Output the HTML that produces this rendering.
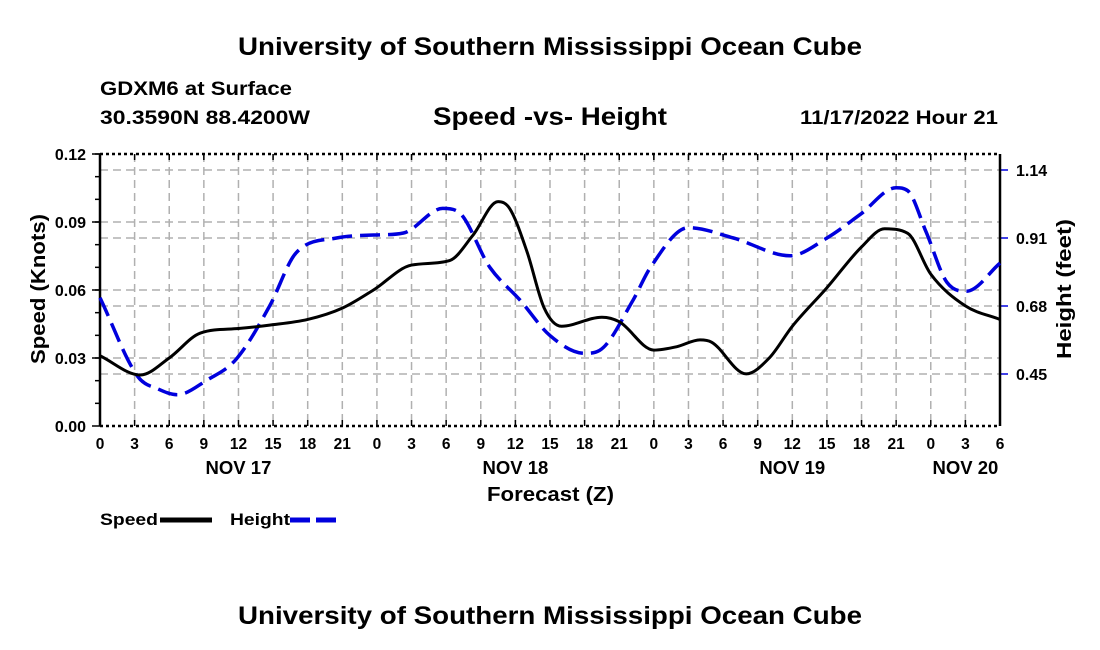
<!DOCTYPE html>
<html><head><meta charset="utf-8"><style>
body{margin:0;background:#fff;}
svg{display:block;font-family:"Liberation Sans",Arial,sans-serif;}
</style></head><body>
<svg id="chart" width="1100" height="650">
<text x="238" y="55" font-size="25" font-weight="bold" textLength="624" lengthAdjust="spacingAndGlyphs">University of Southern Mississippi Ocean Cube</text>
<text x="100" y="95" font-size="19" font-weight="bold" textLength="192" lengthAdjust="spacingAndGlyphs">GDXM6 at Surface</text>
<text x="100" y="124" font-size="19" font-weight="bold" textLength="210" lengthAdjust="spacingAndGlyphs">30.3590N  88.4200W</text>
<text x="433" y="125" font-size="25" font-weight="bold" textLength="234" lengthAdjust="spacingAndGlyphs">Speed -vs- Height</text>
<text x="800" y="124" font-size="19" font-weight="bold" textLength="198" lengthAdjust="spacingAndGlyphs">11/17/2022 Hour 21</text>
<g id="grid"></g><g id="axes"></g><g id="series"></g>
<text x="487" y="501" font-size="20" font-weight="bold" textLength="127" lengthAdjust="spacingAndGlyphs">Forecast (Z)</text>
<text transform="translate(45,289) rotate(-90)" text-anchor="middle" font-size="20" font-weight="bold" textLength="150" lengthAdjust="spacingAndGlyphs">Speed (Knots)</text>
<text transform="translate(1071,289) rotate(-90)" text-anchor="middle" font-size="20" font-weight="bold" textLength="140" lengthAdjust="spacingAndGlyphs">Height (feet)</text>
<g>
<text x="100" y="525" font-size="17" font-weight="bold" textLength="58" lengthAdjust="spacingAndGlyphs">Speed</text>
<line x1="160" y1="520" x2="212" y2="520" stroke="#000" stroke-width="5"/>
<text x="230" y="525" font-size="17" font-weight="bold" textLength="60" lengthAdjust="spacingAndGlyphs">Height</text>
<line x1="290" y1="520" x2="342" y2="520" stroke="#0000dd" stroke-width="5" stroke-dasharray="20 6"/>
</g>
<text x="238" y="624" font-size="25" font-weight="bold" textLength="624" lengthAdjust="spacingAndGlyphs">University of Southern Mississippi Ocean Cube</text>
</svg>
<script>
const speedHours=[0,3.5,6,8.7,12,14.7,18,21,23.7,27,30.3,32.3,34.5,35.5,37,38.5,40,43.5,45,48,50,52,53,56,58,60,63,66,68,70,72,75,78];
const speedValues=[0.031,0.0225,0.030,0.041,0.043,0.0445,0.047,0.052,0.060,0.071,0.073,0.084,0.099,0.096,0.077,0.052,0.044,0.048,0.046,0.0335,0.035,0.038,0.037,0.023,0.030,0.044,0.061,0.079,0.087,0.085,0.067,0.053,0.047];
const heightHours=[0,3.3,5,6.7,9.3,11.8,14.7,17,20.5,23.7,26.3,29.7,31,33.8,36.4,39,42,43.3,46.2,47.7,51,54.9,59.8,63,65.9,69,70,71.6,73.4,75.1,78];
const heightValues=[0.708,0.44,0.40,0.38,0.43,0.50,0.68,0.86,0.91,0.92,0.927,1.01,1.0,0.81,0.70,0.58,0.52,0.53,0.70,0.81,0.945,0.91,0.85,0.91,0.99,1.08,1.07,0.93,0.76,0.73,0.825];
const speedTicks=[0,0.03,0.06,0.09,0.12];
const speedTickLabels=["0.00","0.03","0.06","0.09","0.12"];
const heightTicks=[0.45,0.68,0.91,1.14];
const hourTickLabels=["0","3","6","9","12","15","18","21","0","3","6","9","12","15","18","21","0","3","6","9","12","15","18","21","0","3","6"];
const dayLabels=["NOV 17","NOV 18","NOV 19","NOV 20"];
const dayHours=[12,36,60,75];

const X0=100,X1=1000,Y0=426,Y1=154,NS="http://www.w3.org/2000/svg";
const xs=h=>X0+h*(X1-X0)/78;
const ys=v=>Y0-v*(Y0-Y1)/0.12;
const yh=v=>374-(v-0.45)*68/0.23;
function mk(p,t,a){const e=document.createElementNS(NS,t);for(const k in a)e.setAttribute(k,a[k]);p.appendChild(e);return e;}
const grid=document.getElementById('grid'),axes=document.getElementById('axes'),series=document.getElementById('series');
const gs={stroke:"#b0b0b0","stroke-width":1.5,"stroke-dasharray":"8 5"};
hourTickLabels.forEach((l,i)=>{const x=xs(i*3);
 if(i>0&&i<26){const g=mk(grid,'line',Object.assign({x1:x,x2:x,y1:Y1,y2:Y0},gs));
 
 }
 const t=mk(axes,'line',{x1:x,x2:x,y1:Y0,y2:Y0-6,stroke:"#000","stroke-width":1.5});
 
 
 const t2=mk(axes,'line',{x1:x,x2:x,y1:Y1,y2:Y1+6,stroke:"#000","stroke-width":1.5});
 
 
 const tx=mk(axes,'text',{x:x,y:449,"text-anchor":"middle","font-size":15.5,"font-weight":"bold"});tx.textContent=l;
 
 });
dayLabels.forEach((l,i)=>{const t=mk(axes,'text',{x:xs(dayHours[i]),y:474,"text-anchor":"middle","font-size":18.5,"font-weight":"bold"});t.textContent=l;
 
 });
speedTicks.forEach((v,i)=>{const y=ys(v);
 if(i>0&&i<4){const g=mk(grid,'line',Object.assign({x1:X0,x2:X1,y1:y,y2:y},gs));
 
 }
 const t=mk(axes,'line',{x1:X0-8,x2:X0,y1:y,y2:y,stroke:"#000","stroke-width":1.5});
 
 
 const tx=mk(axes,'text',{x:86,y:y+6,"text-anchor":"end","font-size":16,"font-weight":"bold"});tx.textContent=speedTickLabels[i];
 
 });
for(let v=0.01;v<0.12;v+=0.01){const y=ys(v);const t=mk(axes,'line',{x1:X0-5,x2:X0,y1:y,y2:y,stroke:"#000","stroke-width":1.5});
 
 }
heightTicks.forEach(v=>{const y=yh(v);
 const g=mk(grid,'line',Object.assign({x1:X0,x2:X1,y1:y,y2:y},gs));
 
 
 const t=mk(axes,'line',{x1:X1,x2:X1+8,y1:y,y2:y,stroke:"#0000dd","stroke-width":1.5});
 
 
 const tx=mk(axes,'text',{x:1016,y:y+6,"font-size":16,"font-weight":"bold"});tx.textContent=v.toFixed(2);
 
 });
[[X0,Y1,X1,Y1,"3 3","frame-top"],[X0,Y0,X1,Y0,"3 3","frame-bottom"],[X0,Y1,X0,Y0,"none","y-axis-left"],[X1,Y1,X1,Y0,"none","y-axis-right"]].forEach(a=>{
 const l=mk(axes,'line',{x1:a[0],y1:a[1],x2:a[2],y2:a[3],stroke:"#000","stroke-width":2.5,"stroke-dasharray":a[4]});
 
 });
function monoPath(px,py){const n=px.length,d=[],m=[];
 for(let i=0;i<n-1;i++)d.push((py[i+1]-py[i])/(px[i+1]-px[i]));
 m[0]=d[0];m[n-1]=d[n-2];
 for(let i=1;i<n-1;i++)m[i]=d[i-1]*d[i]<=0?0:(d[i-1]+d[i])/2;
 for(let i=0;i<n-1;i++){if(d[i]===0){m[i]=m[i+1]=0;continue;}const a=m[i]/d[i],b=m[i+1]/d[i],s=a*a+b*b;if(s>9){const t=3/Math.sqrt(s);m[i]=t*a*d[i];m[i+1]=t*b*d[i];}}
 let p="M"+px[0]+","+py[0];
 for(let i=0;i<n-1;i++){const h=(px[i+1]-px[i])/3;p+=" C"+(px[i]+h)+","+(py[i]+m[i]*h)+" "+(px[i+1]-h)+","+(py[i+1]-m[i+1]*h)+" "+px[i+1]+","+py[i+1];}
 return p;}
const hp=mk(series,'path',{d:monoPath(heightHours.map(xs),heightValues.map(yh)),fill:"none",stroke:"#0000dd","stroke-width":3.5,"stroke-dasharray":"20 8"});


const sp=mk(series,'path',{d:monoPath(speedHours.map(xs),speedValues.map(ys)),fill:"none",stroke:"#000","stroke-width":3});


</script>
</body></html>
